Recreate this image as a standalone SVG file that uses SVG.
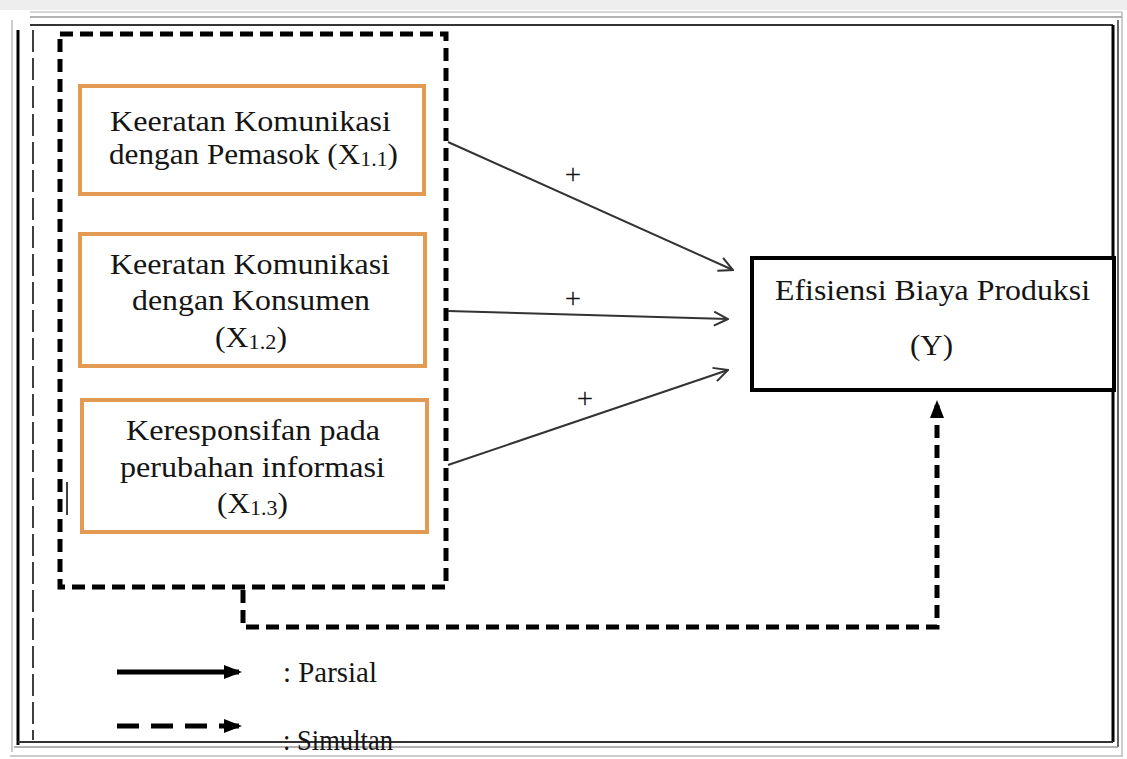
<svg xmlns="http://www.w3.org/2000/svg" width="1127" height="759" viewBox="0 0 1127 759">
<defs>
<style>
.t{font-family:"Liberation Serif","Times New Roman",serif;fill:#151515;font-size:30px}
.sub{font-size:21px}
.plus{font-family:"Liberation Serif","Times New Roman",serif;fill:#151515;font-size:29px}
.box{fill:#fff;stroke:#E39B53;stroke-width:4}
.thin{fill:none;stroke:#333;stroke-width:2}
.dash{fill:none;stroke:#000;stroke-width:5;stroke-dasharray:13 7}
</style>
<marker id="open" viewBox="0 0 16 16" refX="15" refY="8" markerWidth="16" markerHeight="16" markerUnits="userSpaceOnUse" orient="auto">
<path d="M1,1 L15,8 L1,15" fill="none" stroke="#333" stroke-width="2"/>
</marker>
<marker id="solid" viewBox="0 0 18 16" refX="15" refY="8" markerWidth="18" markerHeight="16" markerUnits="userSpaceOnUse" orient="auto">
<path d="M0,1 L18,8 L0,15 Z" fill="#000"/>
</marker>
</defs>
<rect width="1127" height="759" fill="#fff"/>
<rect x="0" y="0" width="1127" height="10" fill="#eeeeee"/>
<g id="frame" fill="none">
<line x1="30" y1="12" x2="1122" y2="12" stroke="#c8c8c8" stroke-width="1.5"/>
<line x1="30" y1="17" x2="1122" y2="17" stroke="#999" stroke-width="1.5"/>
<line x1="30" y1="25" x2="1113" y2="25" stroke="#333" stroke-width="2"/>
<line x1="12" y1="20" x2="12" y2="752" stroke="#bbb" stroke-width="1.5"/>
<line x1="18" y1="30" x2="18" y2="745" stroke="#000" stroke-width="3"/>
<line x1="33" y1="30" x2="33" y2="740" stroke="#000" stroke-width="1.5" stroke-dasharray="22 6"/>
<line x1="1113" y1="25" x2="1113" y2="742" stroke="#000" stroke-width="3"/>
<line x1="1118" y1="20" x2="1118" y2="747" stroke="#000" stroke-width="1.2"/>
<line x1="1122" y1="12" x2="1122" y2="757" stroke="#aaa" stroke-width="1.2"/>
<line x1="18" y1="742" x2="1113" y2="742" stroke="#333" stroke-width="2"/>
<line x1="14" y1="747" x2="1118" y2="747" stroke="#999" stroke-width="1.5"/>
<line x1="10" y1="756" x2="1122" y2="756" stroke="#bbb" stroke-width="1.5"/>
<line x1="67" y1="482" x2="67" y2="515" stroke="#000" stroke-width="1.5"/>
</g>
<g id="group-x1">
<rect x="60" y="34" width="386" height="553" class="dash"/>
</g>
<g id="x11">
<rect x="80" y="86" width="344" height="108" class="box"/>
<text class="t" x="110" y="131" textLength="281" lengthAdjust="spacingAndGlyphs">Keeratan Komunikasi</text>
<text class="t" x="109" y="164" textLength="289" lengthAdjust="spacingAndGlyphs">dengan Pemasok (X<tspan class="sub" dy="2">1.1</tspan><tspan dy="-2">)</tspan></text>
</g>
<g id="x12">
<rect x="80" y="234" width="345" height="132" class="box"/>
<text class="t" x="110" y="274" textLength="280" lengthAdjust="spacingAndGlyphs">Keeratan Komunikasi</text>
<text class="t" x="132" y="310" textLength="238" lengthAdjust="spacingAndGlyphs">dengan Konsumen</text>
<text class="t" x="215" y="347" textLength="72" lengthAdjust="spacingAndGlyphs">(X<tspan class="sub" dy="2">1.2</tspan><tspan dy="-2">)</tspan></text>
</g>
<g id="x13">
<rect x="82" y="400" width="345" height="132" class="box"/>
<text class="t" x="126" y="440" textLength="254" lengthAdjust="spacingAndGlyphs">Keresponsifan pada</text>
<text class="t" x="120" y="477" textLength="265" lengthAdjust="spacingAndGlyphs">perubahan informasi</text>
<text class="t" x="217" y="513" textLength="71" lengthAdjust="spacingAndGlyphs">(X<tspan class="sub" dy="2">1.3</tspan><tspan dy="-2">)</tspan></text>
</g>
<g id="y">
<rect x="752" y="258" width="362" height="132" fill="#fff" stroke="#000" stroke-width="4"/>
<text class="t" x="775" y="300" textLength="315" lengthAdjust="spacingAndGlyphs">Efisiensi Biaya Produksi</text>
<text class="t" x="910" y="355" textLength="43" lengthAdjust="spacingAndGlyphs">(Y)</text>
</g>
<g id="connectors">
<line x1="448" y1="142" x2="733" y2="270" class="thin" marker-end="url(#open)"/>
<line x1="448" y1="311" x2="728" y2="319" class="thin" marker-end="url(#open)"/>
<line x1="448" y1="465" x2="728" y2="370" class="thin" marker-end="url(#open)"/>
<path d="M243,590 V627 H937 V403" class="dash" marker-end="url(#solid)"/>
<text class="plus" x="573" y="184" text-anchor="middle">+</text>
<text class="plus" x="573" y="308" text-anchor="middle">+</text>
<text class="plus" x="585" y="408" text-anchor="middle">+</text>
</g>
<g id="legend">
<line x1="117" y1="672" x2="239" y2="672" stroke="#000" stroke-width="5" marker-end="url(#solid)"/>
<text class="t" x="283" y="682" textLength="94" lengthAdjust="spacingAndGlyphs">: Parsial</text>
<line x1="117" y1="726" x2="239" y2="726" stroke="#000" stroke-width="5" stroke-dasharray="22 12" marker-end="url(#solid)"/>
<text class="t" x="283" y="750" textLength="110" lengthAdjust="spacingAndGlyphs">: Simultan</text>
</g>
</svg>
